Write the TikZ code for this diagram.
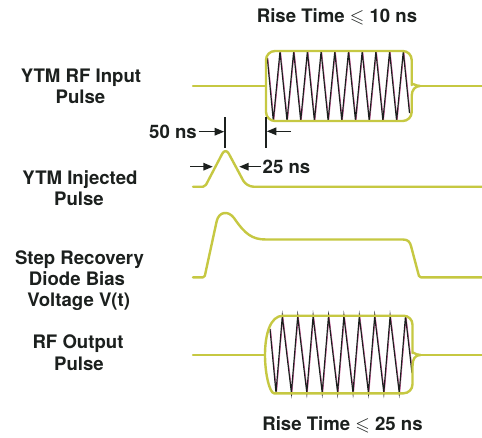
\documentclass[tikz,border=0pt]{standalone}
\usepackage{amssymb}
\usepackage{fontspec}
\setmainfont{TeX Gyre Heros}
\usetikzlibrary{arrows.meta}
\definecolor{sigcol}{RGB}{198,200,66}
\definecolor{inkcol}{RGB}{28,32,30}
\definecolor{ghost}{RGB}{215,90,160}
\tikzset{
  sig/.style={draw=sigcol, line width=2.4pt, line join=round, line cap=round},
  zig/.style={draw=inkcol, line width=1.2pt, line join=miter},
  zigghost/.style={draw=ghost, line width=0.6pt},
  lbl/.style={font=\fontsize{18.6}{21}\selectfont\bfseries, text=inkcol, inner sep=0pt},
  dimline/.style={draw=inkcol, line width=1.5pt},
  dimarrow/.style={draw=inkcol, line width=1.5pt, -{Triangle[length=9.5pt,width=7.5pt]}},
}
\begin{document}
\begin{tikzpicture}[x=1pt,y=-1pt]
\useasboundingbox[fill=white] (0,0) rectangle (482,437);

% ---- titles ----
\node[lbl, anchor=base] (rt1) at (337,22.7) {Rise Time $\leqslant$ 10 ns};
\node[lbl, anchor=base] (rt2) at (342.5,430.7) {Rise Time $\leqslant$ 25 ns};

% ---- left labels ----
\node[lbl, anchor=base] (l1a) at (81,82.4) {YTM RF Input};
\node[lbl, anchor=base] (l1b) at (80.5,103.4) {Pulse};
\node[lbl, anchor=base] (l2a) at (80,184.4) {YTM Injected};
\node[lbl, anchor=base] (l2b) at (79,205) {Pulse};
\node[lbl, anchor=base] (l3a) at (79.5,264) {Step Recovery};
\node[lbl, anchor=base] (l3b) at (77,285) {Diode Bias};
\node[lbl, anchor=base] (l3c) at (78.7,306.7) {Voltage V(t)};
\node[lbl, anchor=base] (l4a) at (78,348.4) {RF Output};
\node[lbl, anchor=base] (l4b) at (79,370) {Pulse};

% ---- YTM RF input pulse ----
\begin{scope}[xshift=0.7pt]
\draw[zigghost] (267.3,58) \foreach \k in {0,...,9} { -- ({273.3+13.7*\k},120.5) -- ({280+13.7*\k},51.5) } -- (409.5,113);
\end{scope}
\draw[zig] (267.3,58) \foreach \k in {0,...,9} { -- ({273.3+13.7*\k},120.5) -- ({280+13.7*\k},51.5) } -- (409.5,113);
\draw[sig] (193,86) -- (266,86);
\draw[sig] (266,86) [rounded corners=9pt] -- (266,51) -- (411.7,51) -- (411.7,76) [sharp corners]
  .. controls (411.7,82) and (415,86) .. (420,86)
  .. controls (415,86) and (411.7,90) .. (411.7,96)
  [rounded corners=9pt] -- (411.7,121) -- (266,121) -- (266,86);
\draw[sig] (420,86) -- (482,86);

% ---- dimension marks ----
\draw[dimline] (225,117) -- (225,148);
\draw[dimline] (266,117) -- (266,148);
\node[lbl, anchor=base east] (d50) at (197,138.4) {50 ns};
\coordinate (a50) at (198.5,131.7);
\draw[dimarrow] (a50) -- (224.2,131.7);
\coordinate (a25r) at (291,131.3);
\draw[dimarrow] (a25r) -- (266.8,131.3);
\node[lbl, anchor=base west] (d25) at (262.5,173.4) {25 ns};
\coordinate (b1) at (190,166.7);
\draw[dimarrow] (b1) -- (212.8,166.7);
\coordinate (b2) at (261,166.7);
\draw[dimarrow] (b2) -- (239.2,166.7);

% ---- YTM injected pulse ----
\draw[sig, rounded corners=2pt] (193,186.7) -- (205,186.7) [rounded corners=7pt] -- (225.5,147.5) -- (246.5,186.7) [rounded corners=2pt] -- (482,186.7);

% ---- step recovery diode bias voltage ----
\draw[sig, rounded corners=1.5pt] (193,277.3) -- (204.5,277.3) -- (216.5,222) [sharp corners]
  .. controls (219,212) and (228,210) .. (234,218)
  .. controls (245,234) and (252,239.5) .. (266,239.5)
  -- (403,239.5)
  .. controls (408,239.5) and (410,242) .. (411,246)
  [rounded corners=1.5pt] -- (419.3,277.3) -- (482,277.3);

% ---- RF output pulse ----
\begin{scope}[xshift=0.7pt]
\draw[zigghost] (270,329) \foreach \k in {0,...,8} { -- ({276+15.4*\k},392.5) -- ({282.3+15.4*\k},316.3) } -- (412,373);
\end{scope}
\draw[zig] (270,329) \foreach \k in {0,...,8} { -- ({276+15.4*\k},392.5) -- ({282.3+15.4*\k},316.3) } -- (412,373);
\draw[sig] (193,355) -- (265,355);
\draw[sig] (283,315.7) [rounded corners=9pt] -- (412.5,315.7) -- (412.5,344) [sharp corners]
  .. controls (412.5,351) and (415,355) .. (420.5,355)
  .. controls (415,355) and (412.5,359) .. (412.5,366)
  [rounded corners=9pt] -- (412.5,393.3) -- (283,393.3) [sharp corners]
  .. controls (270,393.3) and (265,375) .. (265,355)
  .. controls (265,335) and (270,315.7) .. (283,315.7);
\draw[sig] (420.5,355) -- (482,355);
\end{tikzpicture}
\end{document}
